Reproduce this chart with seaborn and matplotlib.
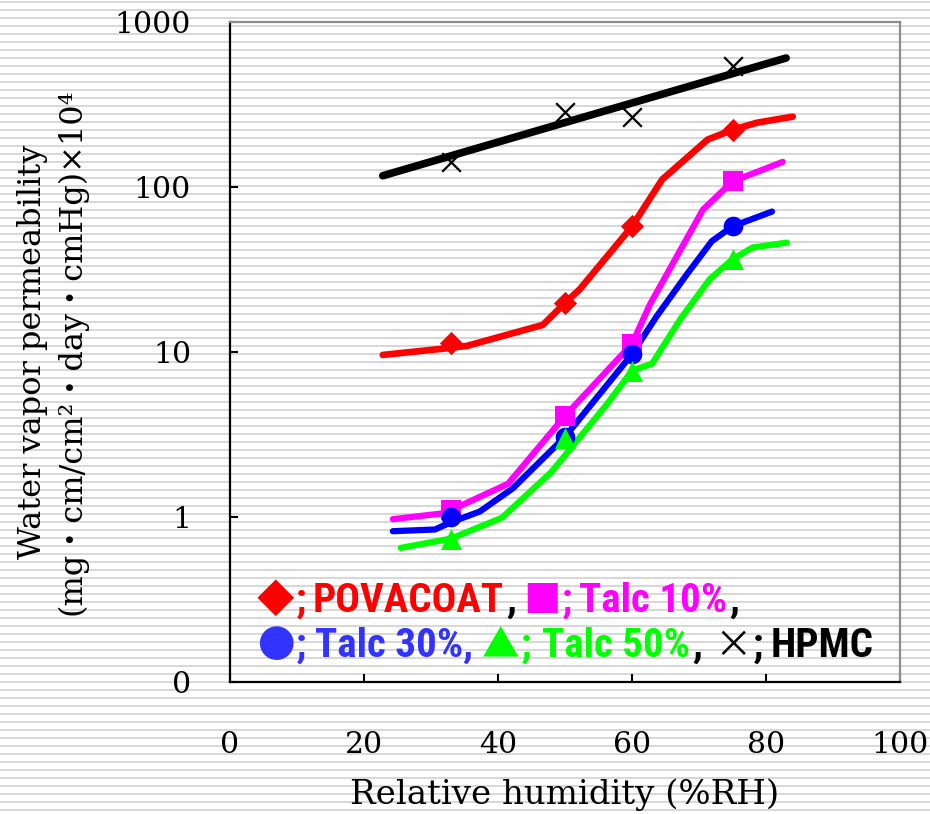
import numpy as np
import pandas as pd
import matplotlib
matplotlib.use("Agg")
import matplotlib.pyplot as plt
import seaborn as sns
from matplotlib import font_manager as fm
from matplotlib.font_manager import FontProperties
from matplotlib.ticker import FixedLocator, FixedFormatter, NullLocator

# ---------------- data ----------------
x_ticks = [0, 20, 40, 60, 80, 100]
x_ticklabels = ["0", "20", "40", "60", "80", "100"]
y_ticks = [0.1, 1, 10, 100, 1000]
y_ticklabels = ["0", "1", "10", "100", "1000"]

meas_rh = [33, 50, 60, 75]

pova_curve_rh = [22.8, 33, 35.4, 46.7, 50, 52.2, 60, 64.5, 71.3, 75, 78.6, 84]
pova_curve = [9.6, 10.6, 10.9, 14.6, 19.8, 24.0, 57.7, 111, 194, 222, 245, 267]
pova_meas = [11.3, 19.8, 57.7, 222]

talc10_curve_rh = [24.3, 31.6, 33, 41.5, 50, 60, 62.7, 70.6, 75, 82.5]
talc10_curve = [0.97, 1.05, 1.1, 1.59, 4.1, 11.2, 19.5, 73, 108, 142]
talc10_meas = [1.1, 4.1, 11.2, 108]

talc30_curve_rh = [24.3, 30.6, 33, 37.3, 42.2, 50, 60, 63.7, 68.2, 71.9, 75, 80.9]
talc30_curve = [0.82, 0.84, 0.93, 1.08, 1.49, 3.06, 9.7, 16.5, 29.6, 46.9, 57.7, 71]
talc30_meas = [1.0, 3.06, 9.7, 57.7]

talc50_curve_rh = [25.5, 33, 40.6, 48, 56.3, 60, 63, 67.2, 71.6, 75, 78, 83.1]
talc50_curve = [0.65, 0.74, 0.99, 1.88, 4.85, 7.7, 8.5, 15.8, 27.6, 36.5, 43, 46]
talc50_meas = [0.74, 3.0, 7.7, 36.5]

hpmc_curve_rh = [22.8, 83]
hpmc_curve = [117, 605]
hpmc_meas = [142, 286, 267, 542]

# ---------------- style ----------------
sns.set_theme(style="white")
serif = ["DejaVu Serif", "Noto Sans CJK JP"]
plt.rcParams["font.family"] = serif


def pick_legend_font(size):
    entries = fm.fontManager.ttflist
    for name in ["Liberation Sans Narrow", "Arial Narrow", "Roboto Condensed",
                 "Open Sans Condensed", "Noto Sans Condensed"]:
        for f in entries:
            if f.name == name and f.weight in (600, 700, "bold"):
                return FontProperties(fname=f.fname, size=size)
    for f in entries:
        if f.name.startswith("DejaVu Sans") and "ondensed" in str(f.stretch) + f.fname \
                and "Bold" in f.fname and "Oblique" not in f.fname and "Mono" not in f.fname:
            return FontProperties(fname=f.fname, size=size - 1)
    return FontProperties(family="Noto Sans CJK JP", weight="bold", size=size + 1)


txt_fp = pick_legend_font(29.5)
sym_fp = FontProperties(family="Noto Sans CJK JP", size=27)

W, H = 930, 814
fig = plt.figure(figsize=(W / 100, H / 100), dpi=100)
fig.patch.set_facecolor("white")

# striped background (decoration)
bg = np.ones((H, W, 3))
rows = np.arange(H)
bg[(rows % 8 == 1) | (rows % 8 == 2)] = 0.85
fig.figimage(bg, xo=0, yo=0, origin="upper", zorder=-5)

ax = fig.add_axes([230 / W, 1 - 682 / H, 670 / W, 660 / H])
ax.set_facecolor("none")

RED, MAG, BLUE, GREEN = "#ff0000", "#ff00ff", "#0000ff", "#00ff00"

sns.lineplot(x=hpmc_curve_rh, y=hpmc_curve, sort=False, estimator=None, color="black", lw=5.5, ax=ax)
sns.lineplot(x=pova_curve_rh, y=pova_curve, sort=False, estimator=None, color=RED, lw=4.8, ax=ax)
sns.lineplot(x=talc10_curve_rh, y=talc10_curve, sort=False, estimator=None, color=MAG, lw=4.5, ax=ax)
sns.lineplot(x=talc30_curve_rh, y=talc30_curve, sort=False, estimator=None, color=BLUE, lw=4.5, ax=ax)
sns.lineplot(x=talc50_curve_rh, y=talc50_curve, sort=False, estimator=None, color=GREEN, lw=4.5, ax=ax)

sns.scatterplot(x=meas_rh, y=hpmc_meas, marker="x", s=180, color="black", linewidth=1.6, ax=ax, zorder=5)
sns.scatterplot(x=meas_rh, y=pova_meas, marker="D", s=140, color=RED, linewidth=0, ax=ax, zorder=5)
sns.scatterplot(x=meas_rh, y=talc10_meas, marker="s", s=200, color=MAG, linewidth=0, ax=ax, zorder=5)
sns.scatterplot(x=meas_rh, y=talc30_meas, marker="o", s=200, color=BLUE, linewidth=0, ax=ax, zorder=5)
sns.scatterplot(x=meas_rh, y=talc50_meas, marker="^", s=230, color=GREEN, linewidth=0, ax=ax, zorder=5)

ax.set_yscale("log")
ax.set_xlim(0, 100)
ax.set_ylim(0.1, 1000)
ax.xaxis.set_major_locator(FixedLocator(x_ticks))
ax.xaxis.set_major_formatter(FixedFormatter(x_ticklabels))
ax.yaxis.set_major_locator(FixedLocator(y_ticks))
ax.yaxis.set_major_formatter(FixedFormatter(y_ticklabels))
ax.yaxis.set_minor_locator(NullLocator())
ax.xaxis.set_minor_locator(NullLocator())
ax.grid(False)

for side in ["left", "bottom"]:
    ax.spines[side].set_color("black")
    ax.spines[side].set_linewidth(1.6)
for side in ["top", "right"]:
    ax.spines[side].set_color("#8c8c8c")
    ax.spines[side].set_linewidth(1.6)
    ax.spines[side].set_visible(True)

ax.tick_params(axis="y", which="major", direction="in", length=6, width=1.5,
               pad=28, labelsize=21.5, left=True, right=False, colors="black")
ax.tick_params(axis="x", which="major", direction="in", length=6, width=1.5,
               pad=35, labelsize=21.5, bottom=True, top=False, colors="black")
for lab in ax.get_xticklabels() + ax.get_yticklabels():
    lab.set_family(serif)

ax.set_xlabel("Relative humidity (%RH)", fontsize=24.5, family=serif, color="black")
ax.xaxis.set_label_coords(0.5, -0.146)
ax.set_ylabel("Water vapor permeability\n(mg・cm/cm²・day・cmHg)×10⁴", fontsize=23,
              family=serif, color="black", linespacing=1.35)
ax.yaxis.set_label_coords(-0.212, 0.5)

# ---------------- text legend ----------------
LBLUE = "#3333ff"
legend_lines = [
    (202, [("◆", RED, sym_fp, 0), (";", RED, txt_fp, 1), ("POVACOAT", RED, txt_fp, 7),
           (",", "black", txt_fp, 2), ("■", MAG, sym_fp, 7), (";", MAG, txt_fp, 1),
           ("Talc 10%", MAG, txt_fp, 7), (",", "black", txt_fp, 2)]),
    (157, [("●", LBLUE, sym_fp, 0), (";", LBLUE, txt_fp, 1), ("Talc 30%,", LBLUE, txt_fp, 9),
           ("▲", GREEN, sym_fp, 9), (";", GREEN, txt_fp, 1), ("Talc 50%", GREEN, txt_fp, 11),
           (",", "black", txt_fp, 2), ("×", "black", sym_fp, 12), (";", "black", txt_fp, 1),
           ("HPMC", "black", txt_fp, 7)]),
]
fig.canvas.draw()
renderer = fig.canvas.get_renderer()
for y_base, pieces in legend_lines:
    x = 257
    for txt, color, fp, gap in pieces:
        x += gap
        t = fig.text(x / W, y_base / H, txt, color=color, fontproperties=fp,
                     ha="left", va="baseline", zorder=10)
        x = t.get_window_extent(renderer).x1

fig.savefig("out.png", dpi=100, facecolor=fig.get_facecolor())
